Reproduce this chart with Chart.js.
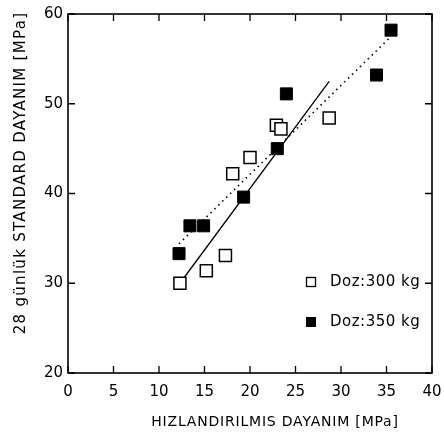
<!DOCTYPE html>
<html>
<head>
<meta charset="utf-8">
<script src="https://cdn.jsdelivr.net/npm/chart.js@4.4.1/dist/chart.umd.min.js"></script>
<style>
html, body { margin: 0; padding: 0; background: #fff; }
#wrap { width: 444px; height: 440px; }
</style>
</head>
<body>
<div id="wrap"><canvas id="chart"></canvas></div>
<script>
// valeurs
var doz300X = [12.3, 15.2, 17.3, 18.1, 20.0, 22.9, 23.4, 28.7];
var doz300Y = [30.0, 31.4, 33.1, 42.2, 44.0, 47.6, 47.2, 48.4];
var doz350X = [12.2, 13.4, 14.9, 19.3, 23.0, 24.0, 33.9, 35.5];
var doz350Y = [33.3, 36.4, 36.4, 39.6, 45.0, 51.1, 53.2, 58.2];
// droites de regression
var fit300X = [12.3, 28.7];
var fit300Y = [30.0, 52.5];
var fit350X = [12.2, 35.3];
var fit350Y = [34.4, 57.3];
var xTitle = "HIZLANDIRILMIS DAYANIM [MPa]";
var yTitle = "28 günlük STANDARD DAYANIM [MPa]";
var legendLabels = ["Doz:300 kg", "Doz:350 kg"];

function toPoints(xs, ys) {
  var pts = [];
  for (var i = 0; i < xs.length; i++) pts.push({x: xs[i], y: ys[i]});
  return pts;
}

var FONT = "'DejaVu Sans', sans-serif";

// cadre, graduations interieures, titres et legende
var framePlugin = {
  id: "frame",
  afterDraw: function(chart) {
    var ctx = chart.ctx;
    var a = chart.chartArea;
    var xs = chart.scales.x, ys = chart.scales.y;
    ctx.save();
    ctx.strokeStyle = "#000";
    ctx.lineWidth = 1.6;
    ctx.strokeRect(a.left, a.top, a.right - a.left, a.bottom - a.top);
    ctx.lineWidth = 1.3;
    ctx.beginPath();
    xs.ticks.forEach(function(t) {
      var px = xs.getPixelForValue(t.value);
      ctx.moveTo(px, a.bottom); ctx.lineTo(px, a.bottom - 7);
      ctx.moveTo(px, a.top); ctx.lineTo(px, a.top + 7);
    });
    ys.ticks.forEach(function(t) {
      var py = ys.getPixelForValue(t.value);
      ctx.moveTo(a.left, py); ctx.lineTo(a.left + 7, py);
      ctx.moveTo(a.right, py); ctx.lineTo(a.right - 7, py);
    });
    ctx.stroke();

    // titres
    ctx.fillStyle = "#000";
    ctx.textAlign = "center";
    ctx.textBaseline = "middle";
    ctx.font = "14px " + FONT;
    ctx.letterSpacing = "0.8px";
    ctx.fillText(xTitle, 275, 422);
    ctx.save();
    ctx.translate(21, 173);
    ctx.rotate(-Math.PI / 2);
    ctx.font = "15px " + FONT;
    ctx.letterSpacing = "1.3px";
    ctx.fillText(yTitle, 0, 0);
    ctx.restore();

    // legende
    var ly = [282, 322];
    ctx.textAlign = "left";
    ctx.font = "15px " + FONT;
    ctx.letterSpacing = "0.5px";
    for (var i = 0; i < 2; i++) {
      ctx.lineWidth = 1.3;
      if (i == 0) ctx.strokeRect(306.5, ly[i] - 4.5, 9, 9);
      else ctx.fillRect(306, ly[i] - 5, 10, 10);
      ctx.fillText(legendLabels[i], 330, ly[i]);
    }
    ctx.restore();
  }
};

var dataGraph = {
  type: "scatter",
  data: {
    datasets: [
      {
        label: legendLabels[0],
        data: toPoints(doz300X, doz300Y),
        pointStyle: "rect",
        pointRadius: 8.5,
        backgroundColor: "#fff",
        borderColor: "#000",
        borderWidth: 1.5,
        order: 1
      },
      {
        label: legendLabels[1],
        data: toPoints(doz350X, doz350Y),
        pointStyle: "rect",
        pointRadius: 8.5,
        backgroundColor: "#000",
        borderColor: "#000",
        borderWidth: 1,
        order: 0
      },
      {
        type: "line",
        data: toPoints(fit300X, fit300Y),
        borderColor: "#000",
        borderWidth: 1.3,
        pointRadius: 0,
        fill: false,
        order: 3
      },
      {
        type: "line",
        data: toPoints(fit350X, fit350Y),
        borderColor: "#000",
        borderWidth: 1.6,
        borderDash: [1.5, 4],
        pointRadius: 0,
        fill: false,
        order: 2
      }
    ]
  },
  options: {
    responsive: true,
    maintainAspectRatio: false,
    animation: false,
    layout: {
      padding: { left: 0, right: 12, top: 13, bottom: 0 }
    },
    scales: {
      x: {
        type: "linear",
        min: 0,
        max: 40,
        afterFit: function(s) { s.height = 67; s.paddingLeft = 0; s.paddingRight = 0; },
        ticks: { stepSize: 5, color: "#000", padding: 10, font: { family: FONT, size: 15 } },
        grid: { display: false, drawTicks: false },
        border: { display: false }
      },
      y: {
        min: 20,
        max: 60,
        afterFit: function(s) { s.width = 68; },
        ticks: { stepSize: 10, color: "#000", padding: 5, font: { family: FONT, size: 15 } },
        grid: { display: false, drawTicks: false },
        border: { display: false }
      }
    },
    plugins: {
      legend: { display: false },
      tooltip: { enabled: false }
    }
  },
  plugins: [framePlugin]
};

var myChart = new Chart(document.getElementById("chart"), dataGraph);
</script>
</body>
</html>
